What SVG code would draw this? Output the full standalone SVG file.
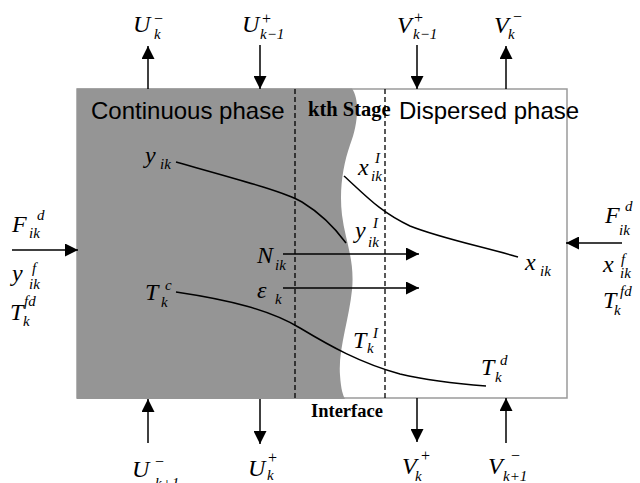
<svg xmlns="http://www.w3.org/2000/svg" width="640" height="483" viewBox="0 0 640 483">
<style>
.m{font-family:"Liberation Serif","Times New Roman",serif;font-style:italic;font-size:24px;fill:#000}
.s{font-family:"Liberation Serif","Times New Roman",serif;font-style:italic;font-size:15px;fill:#000}
.u{font-family:"Liberation Serif","Times New Roman",serif;font-size:16px;fill:#000}
.t{font-family:"Liberation Sans",Arial,sans-serif;font-size:24px;fill:#000}
.b{font-family:"Liberation Serif","Times New Roman",serif;font-weight:bold;fill:#000}
.ar{stroke:#000;stroke-width:1.5;fill:none;marker-end:url(#ah)}
.cv{stroke:#000;stroke-width:1.5;fill:none}
.ds{stroke:#000;stroke-width:1.3;stroke-dasharray:5,3;fill:none}
</style>
<defs>
<marker id="ah" markerUnits="userSpaceOnUse" markerWidth="14" markerHeight="13" refX="13" refY="6.5" orient="auto">
<path d="M0,0 L13,6.5 L0,13 Z" fill="#000"/>
</marker>
</defs>
<rect width="640" height="483" fill="#fff"/>
<g id="stage">
<rect x="77" y="89" width="490" height="309" fill="#fff" stroke="#9a9a9a" stroke-width="1.5"/>
<path d="M77,88.5 L352,88.5 C360,100 358,125 350,145 C343,165 339,190 342,215 C345,240 355,260 352,290 C349,320 338,350 340,375 C341,390 343,395 345,399 L77,399 Z" fill="#959595"/>
<line class="ds" x1="295" y1="89" x2="295" y2="399"/>
<line class="ds" x1="385" y1="89" x2="385" y2="398"/>
<text class="t" x="91" y="119">Continuous phase</text>
<text class="t" x="399" y="119">Dispersed phase</text>
<text class="b" x="308" y="116" font-size="20.5">kth Stage</text>
<text class="b" x="311" y="417" font-size="18.5">Interface</text>
</g>
<g id="connectors">
<line class="ar" x1="148" y1="89" x2="148" y2="46"/>
<line class="ar" x1="260" y1="45" x2="260" y2="89"/>
<line class="ar" x1="417" y1="45" x2="417" y2="89"/>
<line class="ar" x1="506" y1="89" x2="506" y2="46"/>
<line class="ar" x1="148" y1="443" x2="148" y2="399"/>
<line class="ar" x1="260" y1="399" x2="260" y2="444"/>
<line class="ar" x1="417" y1="398" x2="417" y2="442"/>
<line class="ar" x1="506" y1="443" x2="506" y2="398"/>
<line class="ar" x1="12" y1="250" x2="78" y2="250"/>
<line class="ar" x1="622" y1="243" x2="566" y2="243"/>
<line class="ar" x1="283" y1="254" x2="419" y2="254"/>
<line class="ar" x1="283" y1="288" x2="419" y2="288"/>
<path class="cv" d="M176,162 C240,180 285,192 302,202 C320,213 335,228 346,243"/>
<path class="cv" d="M344,176 C365,195 380,212 410,226 C440,238 480,246 518,257"/>
<path class="cv" d="M176,292 C230,300 270,310 300,328 C330,346 360,363 400,374 C430,381 460,384 486,386"/>
</g>
<g id="U-k-minus-top"><text class="m" x="133" y="32">U</text><text class="u" x="154" y="24">−</text><text class="s" x="154" y="39">k</text></g>
<g id="U-km1-plus"><text class="m" x="242" y="32">U</text><text class="u" x="262" y="24">+</text><text class="s" x="260" y="39">k−1</text></g>
<g id="V-km1-plus"><text class="m" x="397" y="33">V</text><text class="u" x="414" y="23">+</text><text class="s" x="413" y="39">k−1</text></g>
<g id="V-k-minus-top"><text class="m" x="494" y="33">V</text><text class="u" x="513" y="22">−</text><text class="s" x="508" y="39">k</text></g>
<g id="U-kp1-minus"><text class="m" x="132" y="477">U</text><text class="u" x="155" y="467">−</text><text class="s" x="155" y="488">k+1</text></g>
<g id="U-k-plus"><text class="m" x="248" y="476">U</text><text class="u" x="268" y="463">+</text><text class="s" x="267" y="480">k</text></g>
<g id="V-k-plus"><text class="m" x="402" y="474">V</text><text class="u" x="421" y="461">+</text><text class="s" x="415" y="481">k</text></g>
<g id="V-kp1-minus"><text class="m" x="488" y="474">V</text><text class="u" x="511" y="461">−</text><text class="s" x="503" y="481">k+1</text></g>
<g id="feed-left">
<text class="m" x="12" y="232">F</text><text class="s" x="37" y="220">d</text><text class="s" x="29" y="238">ik</text>
<text class="m" x="12" y="281">y</text><text class="s" x="32" y="273">f</text><text class="s" x="29" y="289">ik</text>
<text class="m" x="10" y="320">T</text><text class="s" x="24" y="306">fd</text><text class="s" x="23" y="326">k</text>
</g>
<g id="feed-right">
<text class="m" x="605" y="223">F</text><text class="s" x="625" y="211">d</text><text class="s" x="619" y="235">ik</text>
<text class="m" x="603" y="272">x</text><text class="s" x="621" y="264">f</text><text class="s" x="620" y="278">ik</text>
<text class="m" x="603" y="308">T</text><text class="s" x="620" y="296">fd</text><text class="s" x="614" y="315">k</text>
</g>
<g id="y-ik"><text class="m" x="145" y="163">y</text><text class="s" x="160" y="169">ik</text></g>
<g id="T-c"><text class="m" x="145" y="300">T</text><text class="s" x="165" y="290">c</text><text class="s" x="161" y="307">k</text></g>
<g id="N-ik"><text class="m" x="257" y="263">N</text><text class="s" x="275" y="270">ik</text></g>
<g id="eps-k"><text class="m" x="257" y="298">ε</text><text class="s" x="275" y="304">k</text></g>
<g id="x-I"><text class="m" x="358" y="175">x</text><text class="s" x="375" y="163">I</text><text class="s" x="371" y="181">ik</text></g>
<g id="y-I"><text class="m" x="355" y="238">y</text><text class="s" x="373" y="228">I</text><text class="s" x="368" y="247">ik</text></g>
<g id="x-ik"><text class="m" x="525" y="270">x</text><text class="s" x="540" y="276">ik</text></g>
<g id="T-I"><text class="m" x="353" y="348">T</text><text class="s" x="373" y="338">I</text><text class="s" x="367" y="353">k</text></g>
<g id="T-d"><text class="m" x="481" y="375">T</text><text class="s" x="500" y="365">d</text><text class="s" x="495" y="382">k</text></g>
</svg>
